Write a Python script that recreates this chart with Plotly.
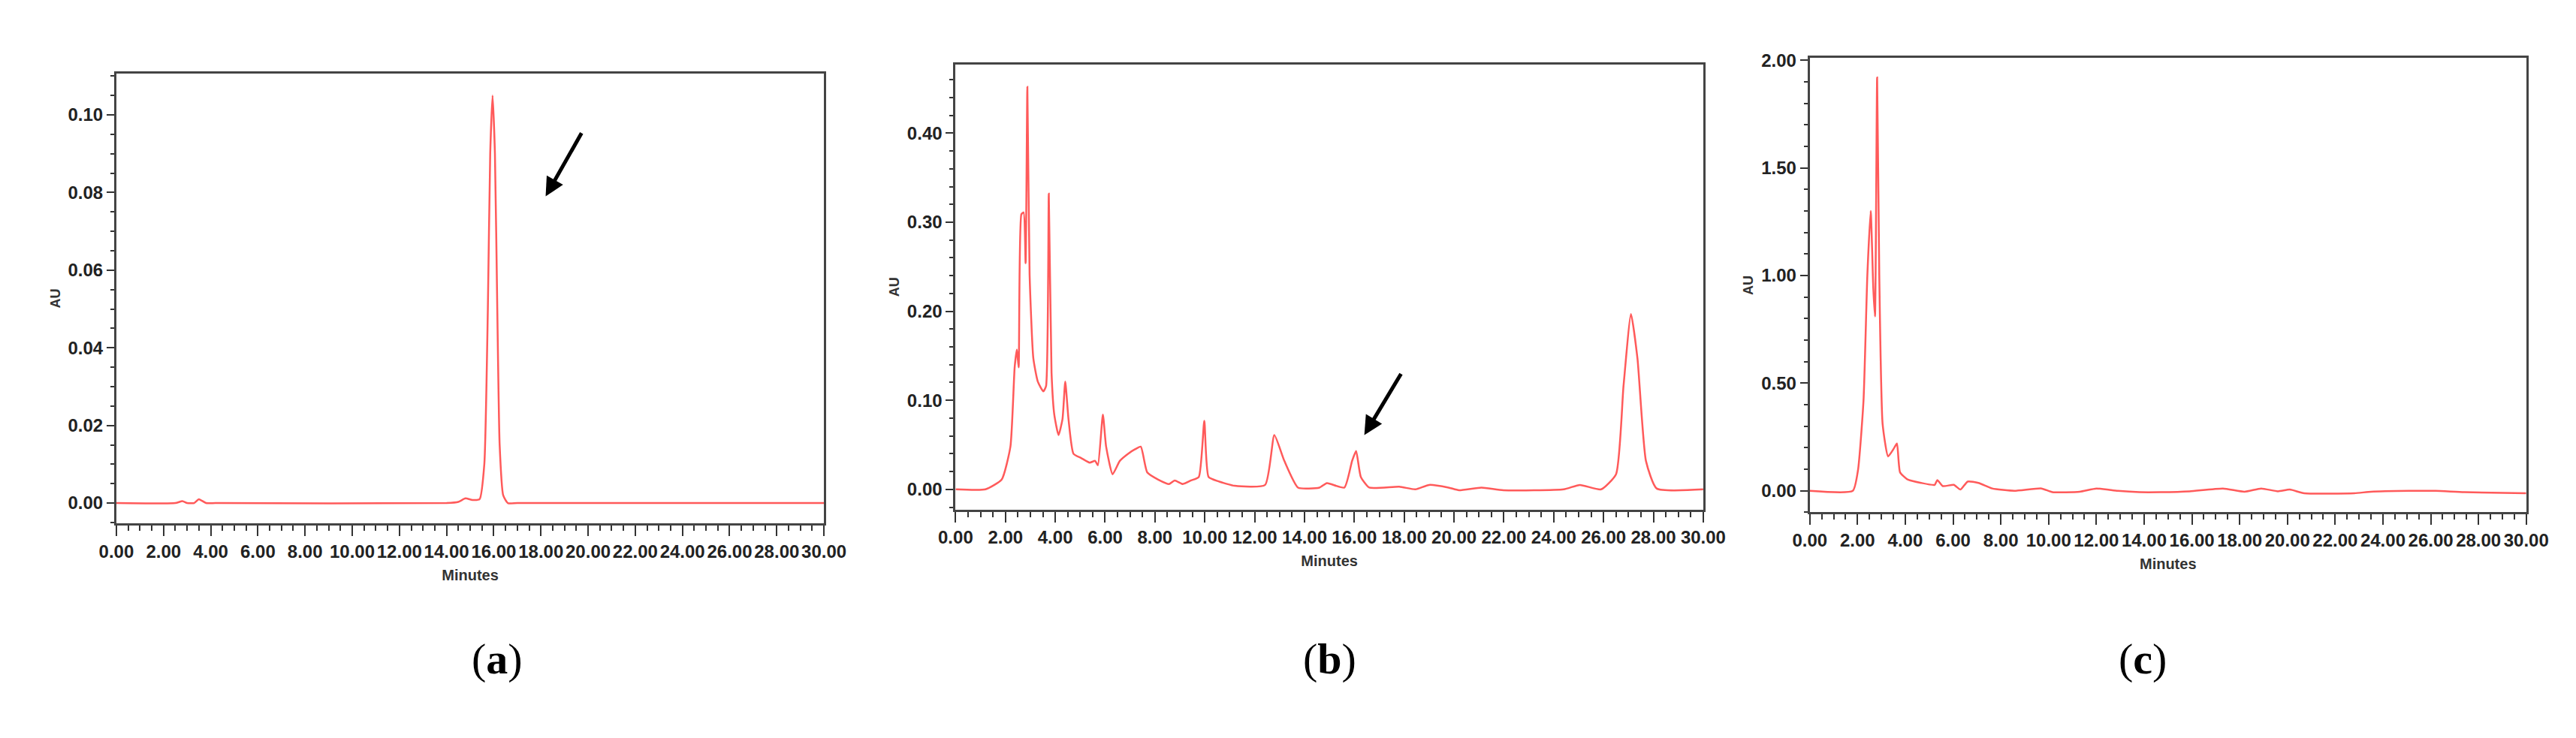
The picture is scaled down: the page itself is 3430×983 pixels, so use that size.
import plotly.graph_objects as go

# Chromatogram traces (time in minutes, absorbance in AU)
time_a = [0, 2.5, 2.8, 3.0, 3.3, 3.5, 3.8, 4.2, 14.0, 14.5, 14.8, 15.1, 15.4, 15.6,
          15.75, 15.85, 15.95, 16.05, 16.15, 16.25, 16.4, 16.6, 17, 30]
au_a = [0, 0, 0.0005, 0, 0, 0.001, 0, 0, 0, 0.0003, 0.0012, 0.0008, 0.001, 0.01,
        0.05, 0.09, 0.105, 0.09, 0.05, 0.015, 0.002, 0, 0, 0]

time_b = [0, 1.2, 1.85, 2.2, 2.37, 2.46, 2.53, 2.64, 2.73, 2.81, 2.88, 2.97, 3.12, 3.3,
          3.52, 3.63, 3.74, 3.85, 3.96, 4.13, 4.29, 4.4, 4.53, 4.73, 5.05, 5.38, 5.6,
          5.71, 5.91, 6.04, 6.3, 6.59, 6.92, 7.2, 7.43, 7.69, 8.13, 8.57, 8.79, 9.12,
          9.45, 9.76, 9.98, 10.15, 10.55, 11.2, 12.42, 12.79, 13.19, 13.74, 14.6, 14.9,
          15.6, 15.91, 16.07, 16.26, 16.6, 17.8, 18.45, 19.0, 19.78, 20.2, 21.1, 21.98,
          24.4, 25.05, 25.9, 26.5, 26.8, 27.1, 27.36, 27.7, 28.13, 30]
au_b = [0, 0, 0.011, 0.048, 0.137, 0.157, 0.137, 0.309, 0.311, 0.254, 0.452, 0.241,
        0.147, 0.121, 0.11, 0.116, 0.332, 0.131, 0.084, 0.061, 0.079, 0.121, 0.079,
        0.04, 0.035, 0.03, 0.032, 0.027, 0.084, 0.048, 0.017, 0.032, 0.04, 0.045,
        0.048, 0.019, 0.011, 0.006, 0.01, 0.006, 0.01, 0.014, 0.077, 0.014, 0.009,
        0.004, 0.005, 0.061, 0.032, 0.002, 0.002, 0.007, 0.002, 0.032, 0.043, 0.014,
        0.002, 0.003, 0, 0.005, 0.002, -0.001, 0.002, -0.001, 0, 0.005, 0, 0.017,
        0.116, 0.197, 0.147, 0.032, 0.001, 0]

time_c = [0, 1.8, 2.02, 2.25, 2.41, 2.55, 2.66, 2.73, 2.82, 2.91, 3.05, 3.28, 3.51,
          3.65, 3.78, 4.08, 4.66, 5.23, 5.34, 5.57, 6.03, 6.31, 6.61, 7.06, 7.64, 8.56,
          9.7, 10.16, 11.3, 12.0, 12.9, 13.8, 14.7, 15.9, 17.3, 18.2, 18.9, 19.6, 20.1,
          20.7, 22.8, 23.5, 25.1, 26.2, 27.4, 30]
au_c = [0, 0, 0.097, 0.42, 1.0, 1.3, 0.94, 0.81, 1.92, 1.0, 0.31, 0.16, 0.195, 0.22,
        0.086, 0.054, 0.037, 0.028, 0.05, 0.022, 0.028, 0.006, 0.043, 0.037, 0.011, 0,
        0.011, -0.006, -0.004, 0.011, 0, -0.006, -0.006, -0.002, 0.011, -0.004, 0.011,
        -0.002, 0.006, -0.011, -0.011, -0.004, 0, 0, -0.006, -0.011]

x_ticks = [0, 2, 4, 6, 8, 10, 12, 14, 16, 18, 20, 22, 24, 26, 28, 30]
x_labels = [f"<b>{t:.2f}</b>" for t in x_ticks]
panel_labels = ["a", "b", "c"]

panels = [
    dict(t=time_a, y=au_a, xdom=[0.0367, 0.3157], ydom=[0.302, 0.919],
         yrange=[-0.0053, 0.1107], yvals=[0, 0.02, 0.04, 0.06, 0.08, 0.10],
         yminor=0.005, arrow=(19.75, 0.0956, 18.2, 0.079)),
    dict(t=time_b, y=au_b, xdom=[0.3676, 0.6624], ydom=[0.3215, 0.931],
         yrange=[-0.0225, 0.477], yvals=[0, 0.1, 0.2, 0.3, 0.4],
         yminor=0.02, arrow=(17.9, 0.131, 16.4, 0.061)),
    dict(t=time_c, y=au_c, xdom=[0.7044, 0.9869], ydom=[0.3174, 0.94],
         yrange=[-0.1, 2.01], yvals=[0, 0.5, 1.0, 1.5, 2.0],
         yminor=0.1, arrow=None),
]

tick_font = dict(family="Liberation Sans Narrow, Liberation Sans, Arial", size=24,
                 color="#222")
fig = go.Figure()
layout = {}
annotations = []
for i, p in enumerate(panels):
    n = "" if i == 0 else str(i + 1)
    xa, ya = "x" + n, "y" + n
    fig.add_trace(go.Scatter(x=p["t"], y=p["y"], mode="lines", xaxis=xa, yaxis=ya,
                             line=dict(color="#ff5a5a", width=2.5, shape="spline",
                                       smoothing=0.5),
                             showlegend=False))
    layout["xaxis" + n] = dict(
        domain=p["xdom"], anchor=ya, range=[0, 30], tickvals=x_ticks,
        ticktext=x_labels, ticks="outside", ticklen=14, tickwidth=2,
        tickcolor="#333", showline=True, linewidth=3, linecolor="#444",
        mirror=True, showgrid=False, zeroline=False, tickfont=tick_font,
        minor=dict(dtick=0.5, ticks="outside", ticklen=7, tickwidth=2,
                   tickcolor="#333"),
        title=dict(text="<b>Minutes</b>", standoff=12,
                   font=dict(family="Liberation Sans Narrow, Liberation Sans",
                             size=20, color="#333")))
    layout["yaxis" + n] = dict(
        domain=p["ydom"], anchor=xa, range=p["yrange"], tickvals=p["yvals"],
        ticktext=[f"<b>{v:.2f}</b>" for v in p["yvals"]], ticks="outside",
        ticklen=10, tickwidth=2,
        tickcolor="#333", showline=True, linewidth=3, linecolor="#444",
        mirror=True, showgrid=False, zeroline=False, tickfont=tick_font,
        minor=dict(dtick=p["yminor"], ticks="outside", ticklen=5, tickwidth=2,
                   tickcolor="#333"),
        title=dict(text="<b>AU</b>", standoff=6,
                   font=dict(family="Liberation Sans", size=18, color="#333")))
    if p["arrow"]:
        x0, y0, x1, y1 = p["arrow"]
        annotations.append(dict(x=x1, y=y1, ax=x0, ay=y0, xref=xa, yref=ya,
                                axref=xa, ayref=ya, showarrow=True, arrowhead=2,
                                arrowsize=1, arrowwidth=5, arrowcolor="black",
                                text=""))
    annotations.append(dict(
        x=sum(p["xdom"]) / 2, y=1 - 903 / 983, xref="paper", yref="paper",
        showarrow=False, text=f"(<b>{panel_labels[i]}</b>)",
        font=dict(family="Liberation Serif, Times New Roman", size=58,
                  color="black")))

fig.update_layout(**layout, annotations=annotations, width=3430, height=983,
                  margin=dict(l=0, r=0, t=0, b=0), plot_bgcolor="white",
                  paper_bgcolor="white")

fig.write_html("out.html")
